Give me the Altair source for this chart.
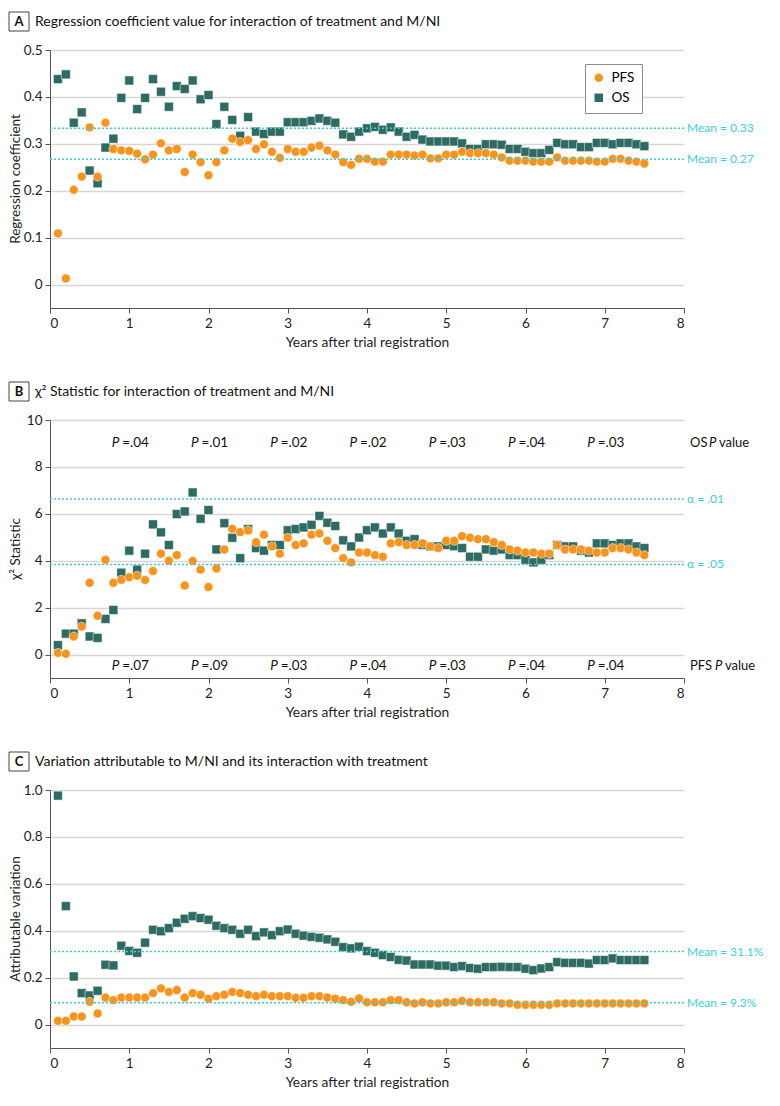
import altair as alt
import pandas as pd

FONT = "Lato"
ORANGE = "#F7941D"
TEAL = "#2E6B62"
CYAN = "#3CCFD8"
GRID = "#D6D6D6"
AXIS = "#555555"
W, H = 634, 258

YEARS = [round(0.1 * i, 1) for i in range(1, 76)]

A_PFS = [0.109, 0.013, 0.202, 0.230, 0.335, 0.230, 0.345, 0.289, 0.286, 0.285,
         0.279, 0.267, 0.277, 0.301, 0.286, 0.289, 0.240, 0.277, 0.261, 0.233,
         0.261, 0.286, 0.311, 0.304, 0.308, 0.289, 0.299, 0.283, 0.270, 0.289,
         0.283, 0.283, 0.292, 0.296, 0.286, 0.277, 0.261, 0.255, 0.268, 0.268,
         0.262, 0.262, 0.277, 0.277, 0.277, 0.275, 0.277, 0.269, 0.269, 0.277,
         0.277, 0.283, 0.280, 0.280, 0.280, 0.277, 0.271, 0.264, 0.264, 0.264,
         0.262, 0.262, 0.262, 0.271, 0.264, 0.264, 0.264, 0.264, 0.262, 0.262,
         0.268, 0.268, 0.264, 0.262, 0.258]
A_OS = [0.438, 0.448, 0.345, 0.367, 0.243, 0.216, 0.292, 0.311, 0.398, 0.435,
        0.374, 0.398, 0.438, 0.411, 0.379, 0.423, 0.417, 0.435, 0.395, 0.404,
        0.342, 0.379, 0.351, 0.317, 0.357, 0.326, 0.321, 0.326, 0.326, 0.346,
        0.346, 0.346, 0.349, 0.354, 0.349, 0.345, 0.320, 0.315, 0.326, 0.333,
        0.336, 0.330, 0.335, 0.326, 0.315, 0.319, 0.309, 0.305, 0.305, 0.305,
        0.305, 0.301, 0.289, 0.289, 0.299, 0.299, 0.298, 0.289, 0.289, 0.283,
        0.280, 0.280, 0.287, 0.302, 0.299, 0.299, 0.293, 0.293, 0.302, 0.302,
        0.299, 0.302, 0.302, 0.299, 0.295]
B_PFS = [0.07, 0.03, 0.77, 1.19, 3.06, 1.65, 4.04, 3.06, 3.19, 3.30,
         3.36, 3.18, 3.56, 4.30, 4.00, 4.24, 2.94, 3.99, 3.62, 2.88,
         3.67, 4.48, 5.36, 5.22, 5.29, 4.79, 5.11, 4.61, 4.30, 4.98,
         4.67, 4.74, 5.11, 5.16, 4.85, 4.54, 4.11, 3.93, 4.35, 4.35,
         4.24, 4.17, 4.74, 4.79, 4.67, 4.67, 4.74, 4.61, 4.54, 4.85,
         4.85, 5.05, 4.98, 4.92, 4.92, 4.79, 4.67, 4.48, 4.43, 4.35,
         4.35, 4.30, 4.30, 4.67, 4.48, 4.48, 4.48, 4.43, 4.35, 4.35,
         4.54, 4.54, 4.48, 4.35, 4.24]
B_OS = [0.40, 0.89, 0.89, 1.33, 0.77, 0.71, 1.52, 1.90, 3.49, 4.43,
        3.62, 4.30, 5.55, 5.21, 4.67, 5.99, 6.10, 6.91, 5.79, 6.16,
        4.48, 5.60, 4.98, 4.11, 5.35, 4.54, 4.43, 4.67, 4.67, 5.30,
        5.35, 5.42, 5.53, 5.91, 5.62, 5.48, 4.87, 4.61, 4.99, 5.30,
        5.42, 5.16, 5.42, 5.16, 4.85, 4.92, 4.68, 4.61, 4.61, 4.67,
        4.62, 4.54, 4.17, 4.17, 4.48, 4.43, 4.48, 4.24, 4.24, 4.04,
        3.93, 4.04, 4.24, 4.67, 4.61, 4.61, 4.43, 4.35, 4.74, 4.74,
        4.67, 4.74, 4.74, 4.61, 4.54]
C_PFS = [0.016, 0.016, 0.034, 0.034, 0.097, 0.047, 0.115, 0.104, 0.115, 0.115,
         0.115, 0.115, 0.134, 0.154, 0.139, 0.147, 0.115, 0.134, 0.127, 0.110,
         0.121, 0.127, 0.139, 0.134, 0.127, 0.121, 0.127, 0.121, 0.121, 0.121,
         0.114, 0.114, 0.121, 0.121, 0.115, 0.110, 0.104, 0.097, 0.111, 0.095,
         0.095, 0.095, 0.104, 0.104, 0.095, 0.090, 0.095, 0.090, 0.090, 0.095,
         0.095, 0.101, 0.095, 0.095, 0.095, 0.095, 0.090, 0.090, 0.084, 0.084,
         0.084, 0.084, 0.084, 0.090, 0.090, 0.090, 0.090, 0.090, 0.090, 0.090,
         0.090, 0.090, 0.090, 0.090, 0.090]
C_OS = [0.976, 0.505, 0.205, 0.134, 0.124, 0.144, 0.255, 0.252, 0.336, 0.314,
        0.306, 0.349, 0.404, 0.398, 0.411, 0.434, 0.451, 0.462, 0.454, 0.447,
        0.421, 0.411, 0.404, 0.387, 0.404, 0.377, 0.393, 0.381, 0.398, 0.405,
        0.387, 0.379, 0.374, 0.370, 0.363, 0.353, 0.330, 0.325, 0.332, 0.313,
        0.306, 0.296, 0.288, 0.276, 0.273, 0.256, 0.256, 0.256, 0.251, 0.251,
        0.245, 0.249, 0.241, 0.238, 0.245, 0.245, 0.246, 0.245, 0.245, 0.238,
        0.232, 0.239, 0.245, 0.266, 0.263, 0.263, 0.263, 0.260, 0.275, 0.275,
        0.282, 0.275, 0.275, 0.275, 0.275]

A_REF_Y = [0.333, 0.267]
A_REF_LABEL = ["Mean = 0.33", "Mean = 0.27"]
B_REF_Y = [6.635, 3.841]
B_REF_LABEL = ["α = .01", "α = .05"]
C_REF_Y = [0.311, 0.093]
C_REF_LABEL = ["Mean = 31.1%", "Mean = 9.3%"]

P_YEARS = [1, 2, 3, 4, 5, 6, 7]
OS_P = ["=.04", "=.01", "=.02", "=.02", "=.03", "=.04", "=.03"]
PFS_P = ["=.07", "=.09", "=.03", "=.04", "=.03", "=.04", "=.04"]
OS_P_Y = 9
PFS_P_Y = -0.5

X_TICKS = [0, 1, 2, 3, 4, 5, 6, 7, 8]
one = pd.DataFrame({"k": [0]})


def xenc():
    return alt.X("year:Q", scale=alt.Scale(domain=[0, 8], nice=False),
                 axis=alt.Axis(values=X_TICKS, format="d", title="Years after trial registration",
                               grid=False, tickSize=5, labelPadding=3, titlePadding=6,
                               domainColor=AXIS, tickColor=AXIS))


def panel(letter, title, pfs, os_, ydom, yticks, ytitle, ref_y, ref_lab, legend):
    yscale = alt.Scale(domain=ydom, nice=False, zero=False)
    yaxis = alt.Axis(values=yticks, title=None, grid=True, gridColor=GRID, gridWidth=1.3,
                     tickSize=5, labelPadding=3, domainColor=AXIS, tickColor=AXIS,
                     labelExpr="datum.value == 0 ? '0' : (datum.value >= 2 ? format(datum.value, 'd') : format(datum.value, '.1f'))")
    df = pd.DataFrame({"year": YEARS + YEARS, "value": os_ + pfs,
                       "series": ["OS"] * len(os_) + ["PFS"] * len(pfs)})
    if legend:
        leg = alt.Legend(title=None, orient="none", legendX=535, legendY=14,
                         strokeColor="#8c8c8c", fillColor="white", padding=7,
                         labelFontSize=13.5, symbolSize=100, rowPadding=3, labelOffset=6)
    else:
        leg = None
    pts = alt.Chart(df).mark_point(filled=True, opacity=1, size=80, stroke="white",
                                   strokeWidth=0.5).encode(
        x=xenc(),
        y=alt.Y("value:Q", scale=yscale, axis=yaxis),
        color=alt.Color("series:N", scale=alt.Scale(domain=["PFS", "OS"], range=[ORANGE, TEAL]),
                        legend=leg),
        shape=alt.Shape("series:N", scale=alt.Scale(domain=["PFS", "OS"], range=["circle", "square"]),
                        legend=leg),
        order=alt.Order("order:Q"),
    ).transform_calculate(order="datum.series == 'OS' ? 0 : 1")
    refdf = pd.DataFrame({"y": ref_y, "label": ref_lab})
    rules = alt.Chart(refdf).mark_rule(color=CYAN, strokeDash=[2, 2], strokeWidth=1.5).encode(
        y=alt.Y("y:Q", scale=yscale))
    reflab = alt.Chart(refdf).mark_text(align="left", dx=3, color=CYAN, fontSize=12).encode(
        x=alt.datum(8), y=alt.Y("y:Q", scale=yscale), text="label:N")
    box = alt.Chart(one).mark_rect(fill="white", stroke="#444444", strokeWidth=1).encode(
        x=alt.value(-41), x2=alt.value(-21), y=alt.value(-38), y2=alt.value(-19))
    let = alt.Chart(one).mark_text(fontSize=13, fontWeight="bold", color="#111").encode(
        x=alt.value(-31), y=alt.value(-28.5), text=alt.value(letter))
    ttl = alt.Chart(one).mark_text(fontSize=14, align="left", color="#111").encode(
        x=alt.value(-15), y=alt.value(-28.5), text=alt.value(title))
    ytl = alt.Chart(one).mark_text(fontSize=13.5, angle=270, align="center", baseline="middle",
                                   color="#222").encode(
        x=alt.value(-34), y=alt.value(H / 2), text=alt.value(ytitle))
    layers = [rules, reflab, box, let, ttl, ytl]
    return layers, pts, yscale


la, pa, ya = panel("A", "Regression coefficient value for interaction of treatment and M/NI",
                   A_PFS, A_OS, [-0.05, 0.5], [0, 0.1, 0.2, 0.3, 0.4, 0.5],
                   "Regression coefficient", A_REF_Y, A_REF_LABEL, True)
lb, pb, yb = panel("B", "χ² Statistic for interaction of treatment and M/NI",
                   B_PFS, B_OS, [-1, 10], [0, 2, 4, 6, 8, 10],
                   "χ² Statistic", B_REF_Y, B_REF_LABEL, False)
lc, pc, yc = panel("C", "Variation attributable to M/NI and its interaction with treatment",
                   C_PFS, C_OS, [-0.1, 1.0], [0, 0.2, 0.4, 0.6, 0.8, 1.0],
                   "Attributable variation", C_REF_Y, C_REF_LABEL, False)

pdf = pd.DataFrame({"year": P_YEARS + P_YEARS, "y": [OS_P_Y] * 7 + [PFS_P_Y] * 7,
                    "txt": OS_P + PFS_P})
p_it = alt.Chart(pdf).mark_text(align="right", dx=-10, fontSize=13.5, fontStyle="italic",
                                color="#111").encode(
    x=alt.X("year:Q"), y=alt.Y("y:Q", scale=yb), text=alt.value("P"))
p_rest = alt.Chart(pdf).mark_text(align="left", dx=-7, fontSize=13.5, color="#111").encode(
    x=alt.X("year:Q"), y=alt.Y("y:Q", scale=yb), text="txt:N")

side = pd.DataFrame({"y": [OS_P_Y, PFS_P_Y], "name": ["OS", "PFS"]})
s1 = alt.Chart(side).mark_text(align="left", dx=6, fontSize=13, color="#111").encode(
    x=alt.datum(8), y=alt.Y("y:Q", scale=yb), text="name:N")
s2 = alt.Chart(side.iloc[[0]]).mark_text(align="left", dx=25, fontSize=13, fontStyle="italic",
                                         color="#111").encode(
    x=alt.datum(8), y=alt.Y("y:Q", scale=yb), text=alt.value("P"))
s3 = alt.Chart(side.iloc[[0]]).mark_text(align="left", dx=35, fontSize=13, color="#111").encode(
    x=alt.datum(8), y=alt.Y("y:Q", scale=yb), text=alt.value("value"))
s4 = alt.Chart(side.iloc[[1]]).mark_text(align="left", dx=31, fontSize=13, fontStyle="italic",
                                         color="#111").encode(
    x=alt.datum(8), y=alt.Y("y:Q", scale=yb), text=alt.value("P"))
s5 = alt.Chart(side.iloc[[1]]).mark_text(align="left", dx=41, fontSize=13, color="#111").encode(
    x=alt.datum(8), y=alt.Y("y:Q", scale=yb), text=alt.value("value"))

A = alt.layer(pa, *la).properties(width=W, height=H)
B = alt.layer(pb, *lb, p_it, p_rest, s1, s2, s3, s4, s5).properties(width=W, height=H)
C = alt.layer(pc, *lc).properties(width=W, height=H)

chart = alt.vconcat(A, B, C, spacing=112, bounds="flush").resolve_scale(
    color="independent", shape="independent", y="independent"
).properties(
    padding={"left": 0, "top": 3, "right": 0, "bottom": 0}
).configure_view(stroke=None).configure_axis(
    labelFont=FONT, titleFont=FONT, labelFontSize=13.5, titleFontSize=13.8,
    titleFontWeight="normal", labelColor="#222", titleColor="#222"
).configure_text(font=FONT).configure_legend(labelFont=FONT)

chart.save("out.html", embed_options={"renderer": "svg", "actions": False})
